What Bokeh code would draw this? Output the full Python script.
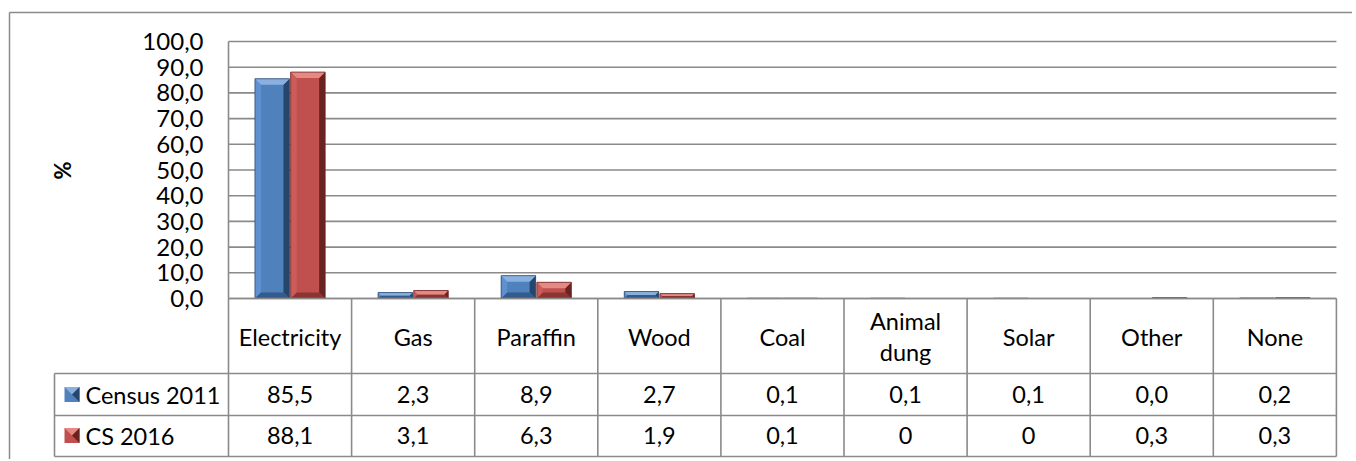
import numpy as np
from bokeh.plotting import figure
from bokeh.models import Range1d, ColumnDataSource
from bokeh.core.properties import value
from bokeh.embed import file_html
from bokeh.resources import INLINE

# ---------------- data ----------------
categories = ["Electricity", "Gas", "Paraffin", "Wood", "Coal", "Animal\ndung", "Solar", "Other", "None"]
census_2011 = [85.5, 2.3, 8.9, 2.7, 0.1, 0.1, 0.1, 0.0, 0.2]
cs_2016 = [88.1, 3.1, 6.3, 1.9, 0.1, 0.0, 0.0, 0.3, 0.3]
census_2011_labels = ["85,5", "2,3", "8,9", "2,7", "0,1", "0,1", "0,1", "0,0", "0,2"]
cs_2016_labels = ["88,1", "3,1", "6,3", "1,9", "0,1", "0", "0", "0,3", "0,3"]
series_names = ["Census 2011", "CS 2016"]
y_ticks = [0, 10, 20, 30, 40, 50, 60, 70, 80, 90, 100]
y_tick_labels = ["0,0", "10,0", "20,0", "30,0", "40,0", "50,0", "60,0", "70,0", "80,0", "90,0", "100,0"]
y_title = "%"

# ---------------- layout helpers (screen px -> data units) ----------------
W, H = 1352, 459
PAGE = 0
PLOT_LEFT = 228.0     # screen x of category 0 start
COLW = 123.1          # px per category
ZERO_Y = 298.0        # screen y of value 0
PXU = 2.57            # px per value unit


def X(s):
    return (s - PLOT_LEFT) / COLW


def Y(s):
    return (ZERO_Y - s) / PXU


FONT = value("Lato")
FS = "23.5px"
GRID = "#8a8a8a"

p = figure(width=W, height=H, output_backend="svg", toolbar_location=None,
           x_range=Range1d(X(PAGE), X(PAGE + W)), y_range=Range1d(Y(PAGE + H), Y(PAGE)),
           min_border=0, min_border_left=0, min_border_right=0,
           min_border_top=0, min_border_bottom=0)
p.xaxis.visible = False
p.yaxis.visible = False
p.xgrid.visible = False
p.ygrid.visible = False
p.outline_line_color = None
p.background_fill_color = "white"
p.border_fill_color = "white"

n = len(categories)

# outer chart border (left & top)
p.line([X(9), X(9)], [Y(12), Y(PAGE + H + 5)], line_color=GRID, line_width=1.5)
p.line([X(9), X(PAGE + W + 5)], [Y(12), Y(12)], line_color=GRID, line_width=1.5)

# horizontal gridlines
for t in y_ticks:
    p.line([0, n], [t, t], line_color=GRID, line_width=1.6)
# value axis line
p.line([0, 0], [0, 100], line_color=GRID, line_width=1.6)

# tick labels
p.text(x=[X(203)] * len(y_ticks), y=y_ticks, text=y_tick_labels, text_align="right",
       text_baseline="middle", text_font=FONT, text_font_size="24px", text_color="black")
p.text(x=[X(62)], y=[Y(170)], text=[y_title], angle=np.pi / 2, text_align="center",
       text_baseline="middle", text_font=FONT, text_font_size="22px", text_font_style="bold",
       text_color="black")

# ---------------- bars with bevel ----------------
palettes = [
    dict(face="#4F81BD", top="#8AB0E0", left="#5F90CF", right="#27466E", bottom="#345B8C", line="#2A4B74"),
    dict(face="#C0504D", top="#E58985", left="#CC5C59", right="#6A2321", bottom="#8C3431", line="#6E2624"),
]
offsets = [0.355, 0.645]
bw = 0.28
bx = 6.0 / COLW
by_full = 6.0 / PXU

xs, ys, cols = [], [], []
for si, vals in enumerate([census_2011, cs_2016]):
    pal = palettes[si]
    for i, v in enumerate(vals):
        if v <= 0:
            continue
        xc = i + offsets[si]
        x0, x1 = xc - bw / 2, xc + bw / 2
        by = min(by_full, v / 2)
        bxx = min(bx, bw / 2) if v / 2 >= by_full else bx * (by / by_full)
        xs.append([x0, x1, x1, x0]); ys.append([0, 0, v, v]); cols.append(pal["face"])
        xs.append([x0, x0, x0 + bxx, x0 + bxx]); ys.append([0, v, v - by, by]); cols.append(pal["left"])
        xs.append([x1, x1, x1 - bxx, x1 - bxx]); ys.append([0, v, v - by, by]); cols.append(pal["right"])
        xs.append([x0, x1, x1 - bxx, x0 + bxx]); ys.append([0, 0, by, by]); cols.append(pal["bottom"])
        xs.append([x0, x1, x1 - bxx, x0 + bxx]); ys.append([v, v, v - by, v - by]); cols.append(pal["top"])

p.patches(xs="xs", ys="ys", fill_color="c", line_color=None,
          source=ColumnDataSource(dict(xs=xs, ys=ys, c=cols)))
for si, vals in enumerate([census_2011, cs_2016]):
    xc = [i + offsets[si] for i in range(n)]
    src = ColumnDataSource(dict(x=[c for c, v in zip(xc, vals) if v > 0], top=[v for v in vals if v > 0]))
    p.vbar(x="x", top="top", bottom=0, width=bw, fill_color=None,
           line_color=palettes[si]["line"], line_width=0.8, source=src)

# ---------------- data table ----------------
ROW1, ROW2, ROW3 = 373, 415, 456
p.line([X(54), n], [Y(ROW1), Y(ROW1)], line_color=GRID, line_width=1.6)
p.line([X(54), n], [Y(ROW2), Y(ROW2)], line_color=GRID, line_width=1.6)
p.line([X(54), n], [Y(ROW3), Y(ROW3)], line_color=GRID, line_width=1.6)
p.line([X(54), X(54)], [Y(ROW1), Y(ROW3)], line_color=GRID, line_width=1.6)
for i in range(n + 1):
    p.line([i, i], [0, Y(ROW3)], line_color=GRID, line_width=1.6)
p.line([0, n], [0, 0], line_color=GRID, line_width=1.6)

centers = [i + 0.5 for i in range(n)]
p.text(x=centers, y=[Y(336)] * n, text=categories, text_align="center", text_baseline="middle",
       text_font=FONT, text_font_size=FS, text_color="black", text_line_height=1.1)
p.text(x=centers, y=[Y(394)] * n, text=census_2011_labels, text_align="center", text_baseline="middle",
       text_font=FONT, text_font_size=FS, text_color="black")
p.text(x=centers, y=[Y(435)] * n, text=cs_2016_labels, text_align="center", text_baseline="middle",
       text_font=FONT, text_font_size=FS, text_color="black")

for si, (name, yy) in enumerate(zip(series_names, [394, 435])):
    pal = palettes[si]
    ks = 7.5
    cx, cy = 71.5, yy
    kx = [[X(cx - ks), X(cx + ks), X(cx + ks), X(cx - ks)],
          [X(cx - ks), X(cx + ks), X(cx)],
          [X(cx + ks), X(cx + ks), X(cx)]]
    ky = [[Y(cy + ks), Y(cy + ks), Y(cy - ks), Y(cy - ks)],
          [Y(cy - ks), Y(cy - ks), Y(cy)],
          [Y(cy - ks), Y(cy + ks), Y(cy)]]
    p.patches(xs=kx, ys=ky, fill_color=[pal["face"], pal["top"], pal["right"]], line_color=None)
    p.text(x=[X(85)], y=[Y(yy)], text=[name], text_align="left", text_baseline="middle",
           text_font=FONT, text_font_size=FS, text_color="black")

open("out.html", "w").write(file_html(p, INLINE))
